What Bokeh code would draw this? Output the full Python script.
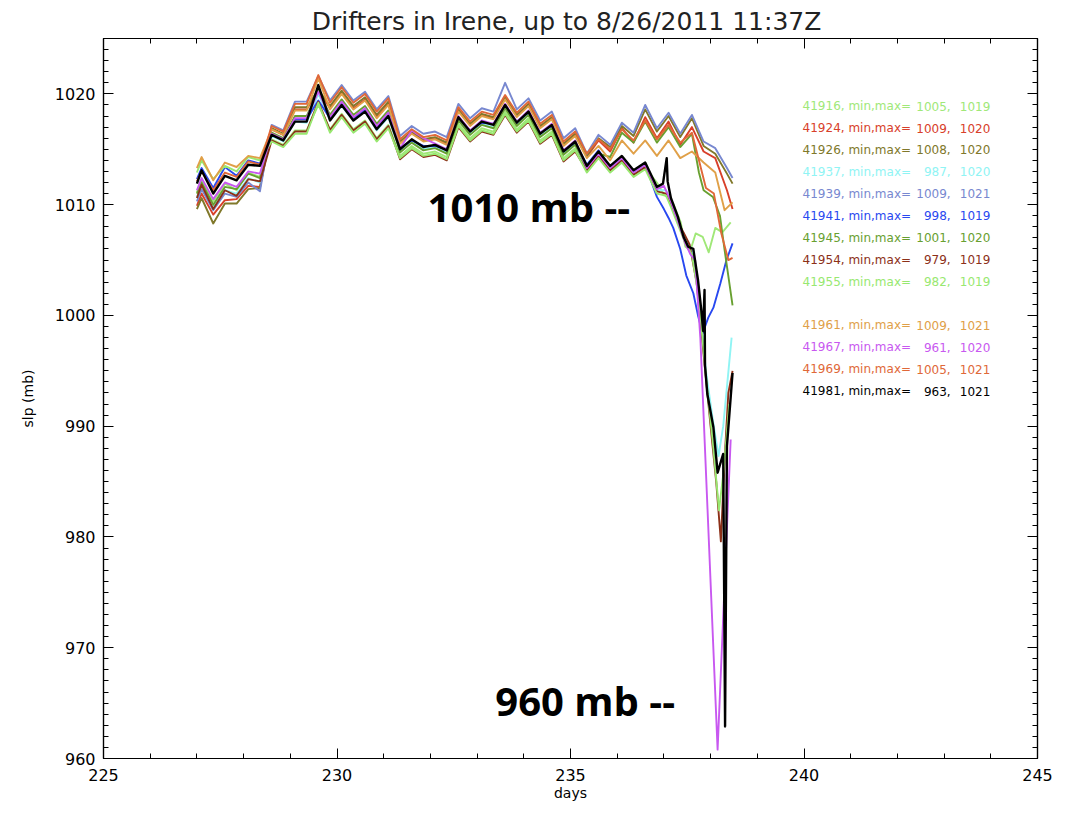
from bokeh.plotting import figure
from bokeh.models import (Range1d, LinearAxis, SingleIntervalTicker, Label, ColumnDataSource,
                          CustomLabelingPolicy)
from bokeh.core.properties import value
from bokeh.embed import file_html
from bokeh.resources import INLINE

# ---------------- data ----------------
days_main = [227.0, 227.1, 227.35, 227.6, 227.85, 228.1, 228.35, 228.6, 228.85, 229.1,
             229.35, 229.6, 229.85, 230.1, 230.35, 230.6, 230.85, 231.1, 231.35, 231.6,
             231.85, 232.1, 232.35, 232.6, 232.85, 233.1, 233.35, 233.6, 233.85, 234.1,
             234.35, 234.6, 234.85, 235.1, 235.35, 235.6, 235.85, 236.1, 236.35, 236.6, 236.85]

drifter_ids = ["41916", "41924", "41926", "41937", "41939", "41941", "41945",
               "41954", "41955", "41961", "41967", "41969", "41981"]
slp_min = [1005, 1009, 1008, 987, 1009, 998, 1001, 979, 982, 1009, 961, 1005, 963]
slp_max = [1019, 1020, 1020, 1020, 1021, 1019, 1020, 1019, 1019, 1021, 1020, 1021, 1021]
colors = ["#a0e878", "#d8402a", "#80782a", "#90f4f4", "#7888d0", "#2848f0", "#68a030",
          "#8c3018", "#98e870", "#e0a048", "#c858f0", "#e06838", "#000000"]

slp_41916 = [1011.1, 1012.3, 1010.3, 1011.9, 1011.3, 1012.9, 1012.5,
             1015.9, 1015.4, 1016.7, 1016.7, 1019.0, 1016.8, 1018.2, 1016.8, 1017.6, 1016.0, 1017.2,
             1014.4, 1015.3, 1014.6, 1014.8, 1014.3, 1017.3, 1016.0, 1016.9, 1016.6, 1018.4, 1016.8, 1017.8, 1015.8, 1016.6, 1014.2, 1015.1,
             1013.0, 1014.3, 1013.0, 1013.9, 1012.6, 1013.3, 1012.0]
tail_days_41916 = [236.99, 237.2, 237.36, 237.46, 237.57, 237.68, 237.83, 237.96, 238.1, 238.25, 238.43]
tail_slp_41916 = [1011.0, 1010.1, 1008.4, 1006.2, 1005.9, 1007.4, 1007.1, 1005.7, 1007.9, 1007.5, 1008.4]

slp_41924 = [1009.9, 1011.0, 1009.1, 1010.4, 1010.5, 1011.7, 1011.6,
             1016.8, 1016.3, 1018.6, 1018.6, 1020.3, 1018.7, 1020.1, 1018.7, 1019.5, 1017.9, 1019.1,
             1015.6, 1016.5, 1015.8, 1016.0, 1015.5, 1018.5, 1017.2, 1018.1, 1017.8, 1019.6, 1018.0, 1019.0, 1017.0, 1017.8, 1015.4, 1016.3,
             1014.3, 1015.8, 1014.8, 1016.9, 1015.6, 1017.9, 1016.0]
tail_days_41924 = [237.1, 237.35, 237.6, 237.85, 238.1, 238.35, 238.47]
tail_slp_41924 = [1017.5, 1015.4, 1017.0, 1014.8, 1014.2, 1011.3, 1009.6]

slp_41926 = [1009.6, 1010.6, 1008.3, 1010.1, 1010.1, 1011.4, 1011.5,
             1016.9, 1016.4, 1018.8, 1018.8, 1020.4, 1018.9, 1020.3, 1018.9, 1019.7, 1018.1, 1019.3,
             1015.7, 1016.6, 1015.9, 1016.1, 1015.6, 1018.6, 1017.3, 1018.2, 1017.9, 1019.7, 1018.1, 1019.1, 1017.1, 1017.9, 1015.5, 1016.4,
             1014.4, 1016.0, 1015.2, 1017.1, 1016.2, 1018.6, 1016.6]
tail_days_41926 = [237.1, 237.35, 237.6, 237.85, 238.1, 238.35, 238.47]
tail_slp_41926 = [1018.0, 1016.1, 1017.8, 1015.3, 1014.6, 1012.8, 1011.9]

slp_41937 = [1010.7, 1011.7, 1009.9, 1011.3, 1011.0, 1012.4, 1012.0,
             1016.2, 1015.7, 1017.5, 1017.4, 1020.0, 1017.6, 1018.9, 1017.6, 1018.4, 1016.7, 1017.9,
             1014.8, 1015.7, 1015.0, 1015.2, 1014.7, 1017.7, 1016.4, 1017.3, 1017.0, 1018.8, 1017.2, 1018.2, 1016.2, 1017.0, 1014.6, 1015.5,
             1013.2, 1014.5, 1013.2, 1014.1, 1012.8, 1013.5, 1011.3]
tail_days_41937 = [237.05, 237.15, 237.3, 237.45, 237.6, 237.75, 237.9, 238.05, 238.17, 238.27, 238.45]
tail_slp_41937 = [1011.3, 1010.2, 1008.6, 1006.9, 1006.0, 1002.0, 995.0, 990.5, 987.3, 990.0, 998.0]

slp_41939 = [1010.3, 1011.4, 1009.5, 1011.0, 1010.7, 1012.0, 1011.2,
             1017.2, 1016.7, 1019.3, 1019.3, 1021.6, 1019.4, 1020.8, 1019.4, 1020.2, 1018.6, 1019.8,
             1016.2, 1017.1, 1016.4, 1016.6, 1016.1, 1019.1, 1017.8, 1018.7, 1018.4, 1021.0, 1018.6, 1019.6, 1017.6, 1018.4, 1016.0, 1016.9,
             1014.6, 1016.3, 1015.4, 1017.4, 1016.5, 1019.0, 1016.9]
tail_days_41939 = [237.1, 237.35, 237.6, 237.85, 238.1, 238.35, 238.47]
tail_slp_41939 = [1018.3, 1016.4, 1018.1, 1015.7, 1015.1, 1013.3, 1012.4]

slp_41941 = [1012.3, 1013.3, 1011.5, 1013.4, 1012.6, 1014.0, 1013.7,
             1016.4, 1015.9, 1017.7, 1017.7, 1019.4, 1017.8, 1019.2, 1017.8, 1018.6, 1017.0, 1018.2,
             1015.1, 1015.8, 1015.3, 1015.3, 1015.0, 1017.8, 1016.7, 1017.4, 1017.3, 1018.8, 1017.5, 1018.3, 1016.5, 1017.1, 1014.9, 1015.6,
             1013.6, 1014.9, 1013.4, 1014.2, 1013.0, 1013.6, 1010.7]
tail_days_41941 = [237.0, 237.1, 237.2, 237.35, 237.48, 237.63, 237.73, 237.83, 237.95, 238.06, 238.21, 238.34, 238.47]
tail_slp_41941 = [1009.6, 1008.8, 1007.9, 1006.0, 1003.6, 1002.0, 1000.0, 998.4, 999.8, 1000.7, 1002.9, 1005.0, 1006.5]

slp_41945 = [1011.0, 1012.0, 1010.0, 1011.6, 1011.4, 1012.8, 1012.4,
             1016.5, 1016.0, 1018.0, 1018.0, 1020.3, 1018.1, 1019.5, 1018.1, 1018.9, 1017.3, 1018.5,
             1014.7, 1015.6, 1014.9, 1015.1, 1014.6, 1017.6, 1016.3, 1017.2, 1016.9, 1018.7, 1017.1, 1018.1, 1016.1, 1016.9, 1014.5, 1015.4,
             1013.4, 1014.6, 1014.3, 1016.5, 1015.6, 1017.5, 1015.6]
tail_days_41945 = [237.1, 237.35, 237.6, 237.75, 237.85, 238.05, 238.2, 238.3, 238.47]
tail_slp_41945 = [1017.0, 1015.2, 1016.4, 1012.9, 1011.3, 1010.7, 1009.0, 1005.9, 1000.9]

slp_41954 = [1010.6, 1011.8, 1009.6, 1011.3, 1010.8, 1012.3, 1012.1,
             1015.8, 1015.3, 1016.6, 1016.6, 1019.3, 1016.7, 1018.1, 1016.7, 1017.5, 1015.9, 1017.1,
             1014.1, 1015.0, 1014.3, 1014.5, 1014.0, 1017.0, 1015.7, 1016.6, 1016.3, 1018.1, 1016.5, 1017.5, 1015.5, 1016.3, 1013.9, 1014.8,
             1013.1, 1014.4, 1013.1, 1014.0, 1012.7, 1013.4, 1011.2]
tail_days_41954 = [237.05, 237.15, 237.3, 237.42, 237.55, 237.7, 237.85, 238.0, 238.12, 238.22, 238.3, 238.38, 238.47]
tail_slp_41954 = [1011.0, 1010.0, 1008.4, 1007.5, 1006.4, 1003.0, 996.5, 990.0, 985.0, 979.6, 987.0, 993.0, 995.0]

slp_41955 = [1012.9, 1014.0, 1012.3, 1013.5, 1013.0, 1014.3, 1014.0,
             1015.7, 1015.2, 1016.4, 1016.4, 1019.2, 1016.5, 1017.9, 1016.5, 1017.3, 1015.7, 1016.9,
             1014.2, 1015.1, 1014.4, 1014.6, 1014.1, 1017.1, 1015.8, 1016.7, 1016.4, 1018.2, 1016.6, 1017.6, 1015.6, 1016.4, 1014.0, 1014.9,
             1012.9, 1014.2, 1012.9, 1013.8, 1012.5, 1013.2, 1011.0]
tail_days_41955 = [237.05, 237.15, 237.3, 237.45, 237.6, 237.75, 237.9, 238.05, 238.18, 238.28, 238.4]
tail_slp_41955 = [1010.8, 1009.8, 1008.2, 1006.6, 1005.5, 1001.5, 994.5, 988.5, 982.4, 986.0, 992.0]

slp_41961 = [1013.3, 1014.3, 1012.2, 1013.8, 1013.4, 1014.4, 1014.2,
             1016.8, 1016.3, 1018.5, 1018.5, 1021.4, 1018.6, 1020.0, 1018.6, 1019.4, 1017.8, 1019.0,
             1015.5, 1016.4, 1015.7, 1015.9, 1015.4, 1018.4, 1017.1, 1018.0, 1017.7, 1019.5, 1017.9, 1018.9, 1016.9, 1017.7, 1015.3, 1016.2,
             1014.2, 1015.3, 1014.0, 1015.8, 1014.6, 1015.8, 1014.4]
tail_days_41961 = [237.1, 237.35, 237.6, 237.85, 238.1, 238.3, 238.47]
tail_slp_41961 = [1015.8, 1014.2, 1014.8, 1013.8, 1012.9, 1009.5, 1010.2]

slp_41967 = [1011.3, 1012.4, 1010.5, 1012.0, 1011.6, 1013.0, 1012.8,
             1016.4, 1015.9, 1017.8, 1017.8, 1020.2, 1017.9, 1019.3, 1017.9, 1018.7, 1017.1, 1018.3,
             1015.1, 1016.7, 1016.0, 1015.5, 1015.0, 1018.0, 1016.7, 1017.6, 1017.3, 1019.1, 1017.5, 1018.5, 1016.5, 1017.3, 1014.9, 1015.8,
             1013.3, 1014.6, 1013.3, 1014.2, 1012.9, 1013.6, 1011.4]
tail_days_41967 = [237.0, 237.15, 237.3, 237.45, 237.57, 237.67, 237.78, 238.15, 238.43]
tail_slp_41967 = [1011.7, 1010.3, 1008.5, 1006.6, 1005.5, 1005.0, 998.0, 960.8, 988.8]

slp_41969 = [1012.1, 1013.0, 1011.3, 1012.9, 1012.5, 1013.9, 1013.6,
             1017.1, 1016.6, 1019.1, 1019.1, 1021.7, 1019.2, 1020.6, 1019.2, 1020.0, 1018.4, 1019.6,
             1015.9, 1016.8, 1016.1, 1016.3, 1015.8, 1018.8, 1017.5, 1018.4, 1018.1, 1019.9, 1018.3, 1019.3, 1017.3, 1018.1, 1015.7, 1016.6,
             1014.6, 1015.9, 1015.0, 1016.8, 1015.8, 1017.6, 1015.9]
tail_days_41969 = [237.1, 237.35, 237.6, 237.75, 237.9, 238.07, 238.23, 238.38, 238.47]
tail_slp_41969 = [1017.2, 1015.6, 1016.5, 1014.0, 1011.5, 1011.0, 1007.4, 1005.0, 1005.2]

slp_41981 = [1011.9, 1013.1, 1011.0, 1012.6, 1012.2, 1013.6, 1013.5,
             1016.3, 1015.8, 1017.5, 1017.5, 1020.8, 1017.6, 1019.0, 1017.6, 1018.4, 1016.8, 1018.0,
             1015.0, 1015.9, 1015.2, 1015.4, 1014.9, 1017.9, 1016.6, 1017.5, 1017.2, 1019.0, 1017.4, 1018.4, 1016.4, 1017.2, 1014.8, 1015.7,
             1013.5, 1014.8, 1013.5, 1014.4, 1013.1, 1013.8, 1011.6]
tail_days_41981 = [236.98, 237.06, 237.08, 237.15, 237.3, 237.42, 237.52, 237.63, 237.73, 237.8,
                   237.84, 237.87, 237.88, 237.93, 238.06, 238.15, 238.27, 238.31, 238.35, 238.47]
tail_slp_41981 = [1011.9, 1014.2, 1012.1, 1010.6, 1008.9, 1007.1, 1006.2, 1006.0, 1003.2, 1000.5,
                  998.6, 1002.3, 995.5, 992.9, 989.9, 985.8, 987.5, 962.9, 988.2, 994.8]

series = {
    "41916": (slp_41916, tail_days_41916, tail_slp_41916),
    "41924": (slp_41924, tail_days_41924, tail_slp_41924),
    "41926": (slp_41926, tail_days_41926, tail_slp_41926),
    "41937": (slp_41937, tail_days_41937, tail_slp_41937),
    "41939": (slp_41939, tail_days_41939, tail_slp_41939),
    "41941": (slp_41941, tail_days_41941, tail_slp_41941),
    "41945": (slp_41945, tail_days_41945, tail_slp_41945),
    "41954": (slp_41954, tail_days_41954, tail_slp_41954),
    "41955": (slp_41955, tail_days_41955, tail_slp_41955),
    "41961": (slp_41961, tail_days_41961, tail_slp_41961),
    "41967": (slp_41967, tail_days_41967, tail_slp_41967),
    "41969": (slp_41969, tail_days_41969, tail_slp_41969),
    "41981": (slp_41981, tail_days_41981, tail_slp_41981),
}

title_text = "Drifters in Irene, up to  8/26/2011 11:37Z"
note_1010 = "1010 mb --"
note_960 = "960 mb --"

# ---------------- figure ----------------
FONT = "DejaVu Sans"
p = figure(width=1057, height=803, x_range=Range1d(225, 245), y_range=Range1d(960, 1025),
           output_backend="svg", toolbar_location=None,
           min_border_left=103, min_border_right=20, min_border_top=38, min_border_bottom=43)
p.title.text = title_text
p.title.align = "center"
p.title.text_font = FONT
p.title.text_font_size = "25px"
p.title.text_font_style = "normal"
p.title.text_color = "#222222"
p.title.standoff = 6
p.grid.visible = False
p.outline_line_color = "black"
p.outline_line_width = 1.2
p.background_fill_color = "white"
p.border_fill_color = "white"


def style_axis(ax, show_labels):
    ax.major_tick_in = 10
    ax.major_tick_out = 0
    ax.minor_tick_in = 5
    ax.minor_tick_out = 0
    ax.axis_line_color = "black"
    ax.major_tick_line_color = "black"
    ax.minor_tick_line_color = "black"
    ax.axis_line_width = 1.2
    if show_labels:
        ax.major_label_text_font = FONT
        ax.major_label_text_font_size = "16px"
        ax.major_label_text_color = "black"
    else:
        ax.major_label_policy = CustomLabelingPolicy(code="return new Set()")
        ax.major_label_text_font_size = "0px"
        ax.major_label_standoff = 0


xaxis = p.xaxis[0]
yaxis = p.yaxis[0]
xaxis.ticker = SingleIntervalTicker(interval=5, num_minor_ticks=5)
yaxis.ticker = SingleIntervalTicker(interval=10, num_minor_ticks=10)
style_axis(xaxis, True)
style_axis(yaxis, True)
xaxis.major_label_standoff = 10
yaxis.major_label_standoff = 8
xaxis.axis_label = "days"
yaxis.axis_label = "slp (mb)"
for ax in (xaxis, yaxis):
    ax.axis_label_text_font = FONT
    ax.axis_label_text_font_size = "14px"
    ax.axis_label_text_font_style = "normal"
    ax.axis_label_text_color = "black"
xaxis.axis_label_standoff = 1
yaxis.axis_label_standoff = 16

top_axis = LinearAxis(ticker=SingleIntervalTicker(interval=5, num_minor_ticks=5))
right_axis = LinearAxis(ticker=SingleIntervalTicker(interval=10, num_minor_ticks=10))
style_axis(top_axis, False)
style_axis(right_axis, False)
p.add_layout(top_axis, "above")
p.add_layout(right_axis, "right")

# ---------------- lines ----------------
for did, col in zip(drifter_ids, colors):
    main_vals, tdays, tvals = series[did]
    src = ColumnDataSource(dict(x=days_main + tdays, y=main_vals + tvals))
    lw = 2.4 if did == "41981" else 1.9
    p.line("x", "y", source=src, line_color=col, line_width=lw, line_join="round")

# ---------------- legend text ----------------
LEG_X0, LEG_XMIN, LEG_XMAX = 239.97, 243.14, 243.99
LEG_Y0, LEG_DY = 1018.9, 1.98
slots = [i if i < 9 else i + 1 for i in range(len(drifter_ids))]
ys = [LEG_Y0 - LEG_DY * s for s in slots]
leg_src = ColumnDataSource(dict(
    y=ys,
    t1=[f"{d}, min,max=" for d in drifter_ids],
    t2=[f"{m}," for m in slp_min],
    t3=[f"{m}" for m in slp_max],
    c=colors,
))
p.text(x=LEG_X0, y="y", text="t1", source=leg_src, text_color="c",
       text_font=value(FONT), text_font_size="12px", text_baseline="middle", text_align="left")
p.text(x=LEG_XMIN, y="y", text="t2", source=leg_src, text_color="c",
       text_font=value(FONT), text_font_size="12px", text_baseline="middle", text_align="right")
p.text(x=LEG_XMAX, y="y", text="t3", source=leg_src, text_color="c",
       text_font=value(FONT), text_font_size="12px", text_baseline="middle", text_align="right")

# ---------------- annotations ----------------
p.add_layout(Label(x=231.94, y=1009.8, text=note_1010, text_font="Open Sans",
                   text_font_style="bold", text_font_size="40px", text_color="black",
                   text_align="left", text_baseline="alphabetic"))
p.add_layout(Label(x=233.39, y=965.2, text=note_960, text_font="Open Sans",
                   text_font_style="bold", text_font_size="40px", text_color="black",
                   text_align="left", text_baseline="alphabetic"))

open("out.html", "w").write(file_html(p, INLINE))
